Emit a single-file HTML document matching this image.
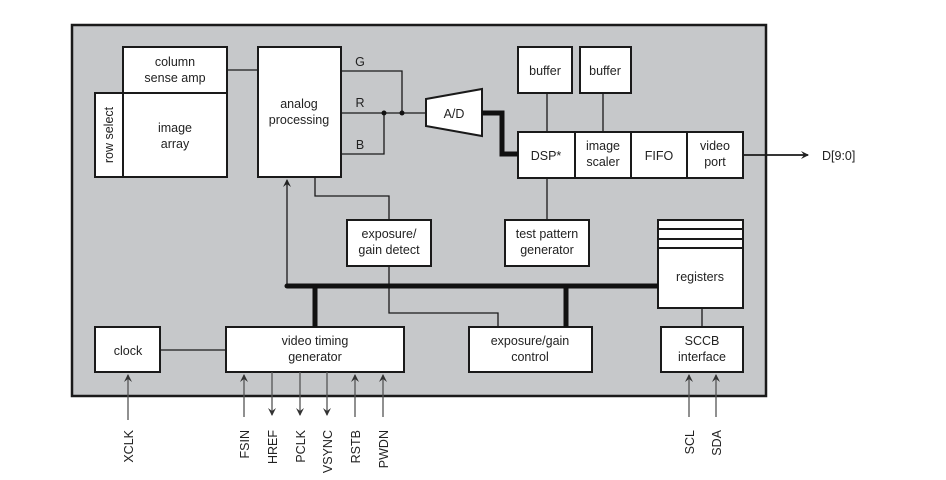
<!DOCTYPE html>
<html><head><meta charset="utf-8"><style>body{margin:0;background:#fff}svg{display:block}</style></head>
<body>
<svg width="946" height="480" viewBox="0 0 946 480" xmlns="http://www.w3.org/2000/svg" font-family="Liberation Sans, DejaVu Sans, sans-serif" font-size="12.5" fill="#222">
<defs>
<marker id="a" markerWidth="8" markerHeight="10" refX="7" refY="4" orient="auto" markerUnits="userSpaceOnUse"><path d="M0,0 L8,4 L0,8 L3,4z" fill="#222"/></marker>
<marker id="g" markerWidth="8" markerHeight="10" refX="7" refY="4" orient="auto" markerUnits="userSpaceOnUse"><path d="M0,0 L8,4 L0,8 L3,4z" fill="#333"/></marker>
</defs>
<rect x="72" y="25" width="694" height="371" fill="#c6c8ca" stroke="#1a1a1a" stroke-width="2.5"/>
<g fill="#fff" stroke="#1a1a1a" stroke-width="2">
<rect x="123" y="47" width="104" height="46"/>
<rect x="95" y="93" width="28" height="84"/>
<rect x="123" y="93" width="104" height="84"/>
<rect x="258" y="47" width="83" height="130"/>
<path d="M426,99 L482,89 L482,136 L426,126z"/>
<rect x="518" y="47" width="54" height="46"/>
<rect x="580" y="47" width="51" height="46"/>
<rect x="518" y="132" width="57" height="46"/>
<rect x="575" y="132" width="56" height="46"/>
<rect x="631" y="132" width="56" height="46"/>
<rect x="687" y="132" width="56" height="46"/>
<rect x="505" y="220" width="84" height="46"/>
<rect x="347" y="220" width="84" height="46"/>
<rect x="658" y="220" width="85" height="88"/>
<rect x="95" y="327" width="65" height="45"/>
<rect x="226" y="327" width="178" height="45"/>
<rect x="469" y="327" width="123" height="45"/>
<rect x="661" y="327" width="82" height="45"/>
</g>
<g fill="none" stroke="#1a1a1a" stroke-width="1.3">
<path d="M658,229H743M658,239H743M658,248H743" stroke-width="2"/>
<path d="M227,70H258"/>
<path d="M341,71H402V113"/>
<path d="M341,113H426"/>
<path d="M341,154H384V113"/>
<path d="M547,93V132M603,93V132M547,178V220"/>
<path d="M315,177V196H389V220"/>
<path d="M389,266V313H498V327"/>
<path d="M702,308V327"/>
<path d="M160,350H226"/>
<path d="M287,286V180" marker-end="url(#a)"/>
<path d="M743,155H808" stroke-width="1.8" marker-end="url(#a)"/>
</g>
<g fill="none" stroke="#111" stroke-width="5">
<path d="M482,113H502V154H518"/>
<path d="M287,286H658"/>
<path d="M315,286V327M566,286V327"/>
</g>
<circle cx="384" cy="113" r="2.5" fill="#111"/><circle cx="402" cy="113" r="2.5" fill="#111"/><circle cx="287" cy="286" r="2.5" fill="#111"/>
<g fill="none" stroke="#555" stroke-width="1.3">
<path d="M128,420V375" marker-end="url(#g)"/>
<path d="M244,417V375" marker-end="url(#g)"/>
<path d="M272,372V415" marker-end="url(#g)"/>
<path d="M300,372V415" marker-end="url(#g)"/>
<path d="M327,372V415" marker-end="url(#g)"/>
<path d="M355,417V375" marker-end="url(#g)"/>
<path d="M383,417V375" marker-end="url(#g)"/>
<path d="M689,417V375" marker-end="url(#g)"/>
<path d="M716,417V375" marker-end="url(#g)"/>
</g>
<g text-anchor="middle">
<text x="175" y="66">column</text><text x="175" y="82">sense amp</text>
<text x="175" y="132">image</text><text x="175" y="148">array</text>
<text transform="translate(113,135) rotate(-90)">row select</text>
<text x="299" y="108">analog</text><text x="299" y="124">processing</text>
<text x="360" y="66">G</text><text x="360" y="107">R</text><text x="360" y="149">B</text>
<text x="454" y="118">A/D</text>
<text x="545" y="75">buffer</text><text x="605" y="75">buffer</text>
<text x="546" y="160">DSP*</text>
<text x="603" y="150">image</text><text x="603" y="166">scaler</text>
<text x="659" y="160">FIFO</text>
<text x="715" y="150">video</text><text x="715" y="166">port</text>
<text x="547" y="238">test pattern</text><text x="547" y="254">generator</text>
<text x="389" y="238">exposure/</text><text x="389" y="254">gain detect</text>
<text x="700" y="281">registers</text>
<text x="128" y="355">clock</text>
<text x="315" y="345">video timing</text><text x="315" y="361">generator</text>
<text x="530" y="345">exposure/gain</text><text x="530" y="361">control</text>
<text x="702" y="345">SCCB</text><text x="702" y="361">interface</text>
</g>
<text x="822" y="160">D[9:0]</text>
<g text-anchor="end">
<text transform="translate(133,430) rotate(-90)">XCLK</text>
<text transform="translate(249,430) rotate(-90)">FSIN</text>
<text transform="translate(277,430) rotate(-90)">HREF</text>
<text transform="translate(305,430) rotate(-90)">PCLK</text>
<text transform="translate(332,430) rotate(-90)">VSYNC</text>
<text transform="translate(360,430) rotate(-90)">RSTB</text>
<text transform="translate(388,430) rotate(-90)">PWDN</text>
<text transform="translate(694,430) rotate(-90)">SCL</text>
<text transform="translate(721,430) rotate(-90)">SDA</text>
</g>
</svg>
</body></html>
